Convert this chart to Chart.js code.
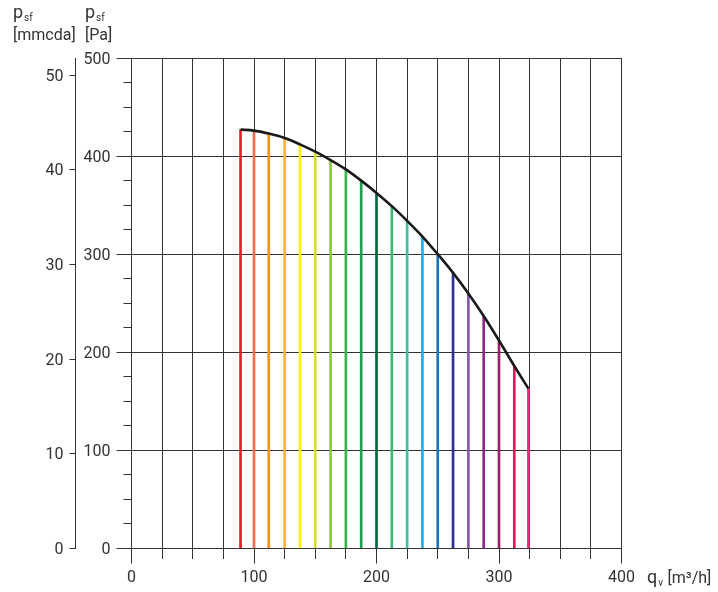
<!DOCTYPE html>
<html>
<head>
<meta charset="utf-8">
<title>Fan curve</title>
<script src="https://cdn.jsdelivr.net/npm/chart.js@4.4.1/dist/chart.umd.min.js"></script>
<style>
    body { margin: 0; background: #fff; }
    #wrap { position: relative; width: 718px; height: 592px; font-family: Roboto, sans-serif; color: #333; }
    .lbl { position: absolute; font-size: 16px; line-height: 16px; white-space: nowrap; }
    .sym { position: absolute; font-size: 18px; line-height: 18px; white-space: nowrap; }
    .sym sub { font-size: 10px; line-height: 10px; vertical-align: -3px; margin-left: 1px; }
</style>
</head>
<body>
<div id="wrap">
    <canvas id="fanChart"></canvas>
    <div class="sym" style="left:13px;top:2.5px">p<sub>sf</sub></div>
    <div class="lbl" style="left:13px;top:27px">[mmcda]</div>
    <div class="sym" style="left:85px;top:2.5px">p<sub>sf</sub></div>
    <div class="lbl" style="left:85px;top:27px">[Pa]</div>
    <div class="sym" style="left:647px;top:568px">q<sub>v</sub> <span style="font-size:16px">[m³/h]</span></div>
</div>
<script>
// Débit (m3/h) des traits verticaux et pression statique (Pa)
const flowPoints = [89, 100, 112, 125, 137.5, 150, 162.5, 175, 187.5, 200, 212.5, 225, 237.5, 250, 262.5, 275, 287.5, 300, 312.5, 324];
const pressurePa = [427, 426, 423, 418.5, 412, 404.5, 396, 386.5, 375, 362.5, 349, 334, 318, 300, 281, 260, 237, 212, 186, 163];
const lineColours = ['#ed1c24', '#f26d50', '#f7941d', '#fbb040', '#fff200', '#d7df23', '#8dc63f', '#39b54a', '#1f9e54', '#00693a',
    '#3cb878', '#40bfa5', '#27aae1', '#1c75bc', '#2e3192', '#8659a5', '#92278f', '#9e1f63', '#da1c5c', '#ee2a7b'];

// Axes : bornes et pas des graduations
const flowMax = 400, flowStep = 25, flowLabelStep = 100;
const paMax = 500, paStep = 25, paLabelStep = 100;
const mmcdaMax = 51.8, mmcdaStep = 10;

const ink = '#333';
const tickFont = { family: 'Roboto', size: 16 };

const points = flowPoints.map((q, i) => ({ x: q, y: pressurePa[i] }));

new Chart(document.getElementById('fanChart'), {
    type: 'bar',
    data: {
        datasets: [{
            type: 'line',
            data: points,
            borderColor: '#1a1a1a',
            borderWidth: 2.6,
            pointRadius: 0,
            cubicInterpolationMode: 'monotone',
            order: 0
        }, {
            type: 'bar',
            data: points,
            backgroundColor: lineColours,
            barThickness: 2,
            order: 1
        }]
    },
    options: {
        responsive: true,
        maintainAspectRatio: false,
        animation: false,
        layout: { padding: { top: 58, right: 96.5, bottom: 0, left: 0 } },
        plugins: { legend: { display: false }, tooltip: { enabled: false } },
        scales: {
            x: {
                type: 'linear',
                min: 0, max: flowMax,
                offset: false,
                grid: {
                    offset: false,
                    color: ink,
                    tickColor: ink,
                    tickLength: 15,
                    tickBorderDash: ctx => ctx.tick.value % flowLabelStep === 0 ? [] : [10, 100]
                },
                border: { color: ink },
                ticks: {
                    stepSize: flowStep,
                    autoSkip: false,
                    maxRotation: 0,
                    color: ink,
                    font: tickFont,
                    padding: 5,
                    callback: v => v % flowLabelStep === 0 ? v : ''
                },
                afterFit: s => { s.height = 43.5; }
            },
            y: {
                position: 'left',
                weight: 0,
                min: 0, max: paMax,
                grid: {
                    color: ctx => ctx.tick.value % paLabelStep === 0 ? ink : 'transparent',
                    tickColor: ink,
                    tickLength: 15,
                    tickBorderDash: ctx => ctx.tick.value % paLabelStep === 0 ? [] : [0, 7, 8, 100]
                },
                border: { color: ink },
                ticks: {
                    stepSize: paStep,
                    autoSkip: false,
                    color: ink,
                    font: tickFont,
                    padding: 6,
                    labelOffset: 1.5,
                    callback: v => v % paLabelStep === 0 ? v : ''
                },
                afterFit: s => { s.width = 56; }
            },
            y2: {
                position: 'left',
                weight: 10,
                min: 0, max: mmcdaMax,
                grid: { drawOnChartArea: false, tickColor: ink, tickLength: 6 },
                border: { color: ink },
                ticks: {
                    stepSize: mmcdaStep,
                    includeBounds: false,
                    color: ink,
                    font: tickFont,
                    padding: 6,
                    labelOffset: 1.5
                },
                afterFit: s => { s.width = 75.5; }
            }
        }
    }
});
</script>
</body>
</html>
